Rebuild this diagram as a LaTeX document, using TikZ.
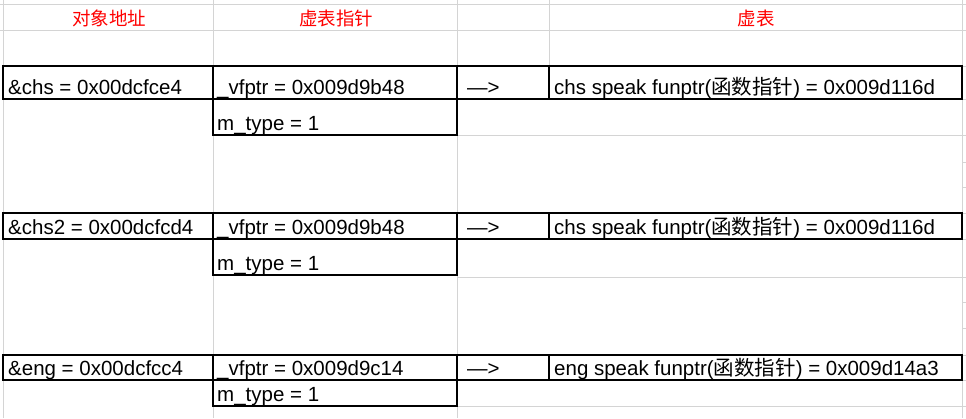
\documentclass[tikz,border=0pt]{standalone}
\usepackage{fontspec}
\setmainfont{Liberation Sans}
\newfontfamily\cjk{Noto Sans CJK SC}
\usepackage{tikz}
\usetikzlibrary{positioning,calc}
\definecolor{gridgray}{RGB}{212,212,212}
\definecolor{headred}{RGB}{255,0,0}

\begin{document}
\begin{tikzpicture}[x=1pt,y=-1pt,
    grid/.style={draw=gridgray, line width=1pt},
    cellbox/.style={draw=black, line width=1.3pt},
    celltext/.style={anchor=base west, inner sep=0pt, font=\fontsize{20.5}{24}\selectfont},
    header/.style={anchor=base, inner sep=0pt, text=headred, font=\cjk\fontsize{18.5}{22}\selectfont}]

    \useasboundingbox[fill=white] (0,0) rectangle (966,418);

    % spreadsheet grid
    \foreach \x in {3,213,457,962} \draw[grid] (\x,0) -- (\x,418);
    \draw[grid] (549,0) -- (549,66);
    \draw[grid] (0,4) -- (966,4);
    \draw[grid] (0,30) -- (966,30);
    \foreach \y in {135,277,406} \draw[grid] (457,\y) -- (966,\y);
    \foreach \y in {66,99,162,187,213,239,302,328,355,380} \draw[grid] (962,\y) -- (966,\y);

    % column headers
    \node[header] (addrhead) at (109,25) {对象地址};
    \node[header] (vfhead) at (336,25) {虚表指针};
    \node[header] (tablehead) at (756,25) {虚表};

    % one object per row: address, vfptr, table entry
    \foreach \top/\mid/\bot/\obj/\vf/\fn [count=\i] in {
        66/99/135/{\&chs = 0x00dcfce4}/{\_vfptr = 0x009d9b48}/{chs speak funptr({\cjk 函数指针}) = 0x009d116d},
        213/239/275/{\&chs2 = 0x00dcfcd4}/{\_vfptr = 0x009d9b48}/{chs speak funptr({\cjk 函数指针}) = 0x009d116d},
        355/380/406/{\&eng = 0x00dcfcc4}/{\_vfptr = 0x009d9c14}/{eng speak funptr({\cjk 函数指针}) = 0x009d14a3}} {
        \draw[cellbox] (3,\top) rectangle (962,\mid);
        \foreach \x in {213,457,549} \draw[cellbox] (\x,\top) -- (\x,\mid);
        \draw[cellbox] (213,\mid) rectangle (457,\bot);
        \node[celltext] (obj\i) at (8,\mid-4.5) {\obj};
        \node[celltext] (vf\i) at (217,\mid-4.5) {\vf};
        \node[celltext] (arrow\i) at (467,\mid-4.5) {—>};
        \node[celltext] (fn\i) at (554,\mid-4.5) {\fn};
        \node[celltext] (type\i) at (217,\bot-4.5) {m\_type = 1};
    }
\end{tikzpicture}
\end{document}
